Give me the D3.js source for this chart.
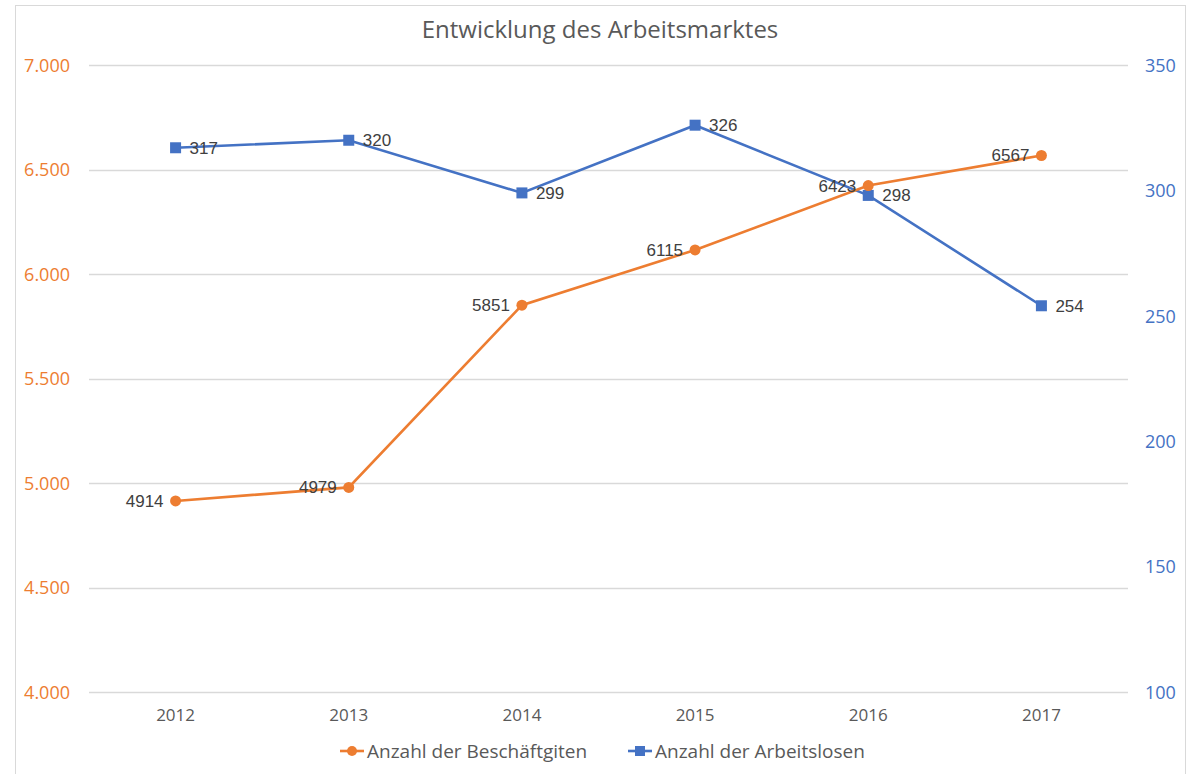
<!DOCTYPE html>
<html>
<head>
<meta charset="utf-8">
<script src="https://cdn.jsdelivr.net/npm/d3@7"></script>
<style>
  body { margin: 0; background: #fff; }
  svg text { font-family: "Open Sans", "Noto Sans", sans-serif; }
</style>
</head>
<body>
<div id="chart"></div>
<script>
// data
var years = ["2012", "2013", "2014", "2015", "2016", "2017"];
var beschaeftigte = [4914, 4979, 5851, 6115, 6423, 6567];
var arbeitslose = [317, 320, 299, 326, 298, 254];
var leftTicks = [4000, 4500, 5000, 5500, 6000, 6500, 7000];
var rightTicks = [100, 150, 200, 250, 300, 350];

var W = 1193, H = 774;
var margin = {top: 65, right: 65, bottom: 82, left: 89};
var orange = "#ED7D31", blue = "#4472C4";

var svg = d3.select("#chart").append("svg")
  .attr("width", W).attr("height", H);

// chart border
svg.append("rect")
  .attr("x", 15.5).attr("y", 5.5)
  .attr("width", 1170).attr("height", 800)
  .attr("fill", "#fff").attr("stroke", "#d9d9d9");

var x = d3.scaleBand().domain(years).range([margin.left, W - margin.right]);
var yL = d3.scaleLinear().domain([4000, 7000]).range([H - margin.bottom, margin.top]);
var yR = d3.scaleLinear().domain([100, 350]).range([H - margin.bottom, margin.top]);
var cx = function(d, i) { return x(years[i]) + x.bandwidth() / 2; };

// gridlines
svg.append("g").selectAll("line").data(leftTicks).enter().append("line")
  .attr("x1", margin.left).attr("x2", W - margin.right)
  .attr("y1", function(d) { return Math.round(yL(d)) + 0.5; })
  .attr("y2", function(d) { return Math.round(yL(d)) + 0.5; })
  .attr("stroke", "#d9d9d9").attr("stroke-width", 1.3);

// left axis (orange)
var fmt = function(d) { return d3.format(",")(d).replace(/,/g, "."); };
var gL = svg.append("g")
  .attr("transform", "translate(" + (margin.left - 16) + ",0)")
  .call(d3.axisLeft(yL).tickValues(leftTicks).tickFormat(fmt).tickSize(0));
gL.select(".domain").remove();
gL.selectAll("text").attr("fill", orange).style("font-size", "18px").attr("dy", "0.35em");

// right axis (blue)
var gR = svg.append("g")
  .attr("transform", "translate(" + (W - margin.right + 14) + ",0)")
  .call(d3.axisRight(yR).tickValues(rightTicks).tickSize(0));
gR.select(".domain").remove();
gR.selectAll("text").attr("fill", blue).style("font-size", "18px").attr("dy", "0.35em");

// x axis
var gX = svg.append("g")
  .attr("transform", "translate(0," + (H - margin.bottom + 14) + ")")
  .call(d3.axisBottom(x).tickSize(0));
gX.select(".domain").remove();
gX.selectAll("text").attr("fill", "#595959").style("font-size", "17px");

// title
svg.append("text")
  .attr("x", 600).attr("y", 38)
  .attr("text-anchor", "middle")
  .attr("fill", "#595959")
  .style("font-size", "24px")
  .text("Entwicklung des Arbeitsmarktes");

// blue line
svg.append("path")
  .datum(arbeitslose)
  .attr("fill", "none").attr("stroke", blue).attr("stroke-width", 2.6)
  .attr("d", d3.line().x(cx).y(function(d) { return yR(d); }));
svg.append("g").selectAll("rect").data(arbeitslose).enter().append("rect")
  .attr("x", function(d, i) { return cx(d, i) - 5.5; })
  .attr("y", function(d) { return yR(d) - 5.5; })
  .attr("width", 11).attr("height", 11)
  .attr("fill", blue);

// orange line
svg.append("path")
  .datum(beschaeftigte)
  .attr("fill", "none").attr("stroke", orange).attr("stroke-width", 2.6)
  .attr("d", d3.line().x(cx).y(function(d) { return yL(d); }));
svg.append("g").selectAll("circle").data(beschaeftigte).enter().append("circle")
  .attr("cx", cx)
  .attr("cy", function(d) { return yL(d); })
  .attr("r", 5.5)
  .attr("fill", orange);

// data labels
svg.append("g").selectAll("text").data(beschaeftigte).enter().append("text")
  .attr("x", function(d, i) { return cx(d, i) - 12; })
  .attr("y", function(d) { return yL(d); })
  .attr("dy", "0.35em")
  .attr("text-anchor", "end")
  .attr("fill", "#404040")
  .style("font-family", "'Liberation Sans', Arial, sans-serif")
  .style("font-size", "17px")
  .text(function(d) { return d; });
svg.append("g").selectAll("text").data(arbeitslose).enter().append("text")
  .attr("x", function(d, i) { return cx(d, i) + 14; })
  .attr("y", function(d) { return yR(d); })
  .attr("dy", "0.35em")
  .attr("fill", "#404040")
  .style("font-family", "'Liberation Sans', Arial, sans-serif")
  .style("font-size", "17px")
  .text(function(d) { return d; });

// legend
var legend = [
  {name: "Anzahl der Beschäftgiten", color: orange, shape: "circle", x: 340},
  {name: "Anzahl der Arbeitslosen", color: blue, shape: "square", x: 628}
];
var lg = svg.append("g").selectAll("g").data(legend).enter().append("g")
  .attr("transform", function(d) { return "translate(" + d.x + ",751)"; });
lg.append("line")
  .attr("x1", 0).attr("x2", 24)
  .attr("stroke", function(d) { return d.color; }).attr("stroke-width", 2.6);
lg.filter(function(d) { return d.shape == "circle"; }).append("circle")
  .attr("cx", 12).attr("r", 5).attr("fill", orange);
lg.filter(function(d) { return d.shape == "square"; }).append("rect")
  .attr("x", 7).attr("y", -5).attr("width", 10).attr("height", 10).attr("fill", blue);
lg.append("text")
  .attr("x", 27).attr("dy", "0.35em")
  .attr("fill", "#595959")
  .style("font-size", "19px")
  .text(function(d) { return d.name; });
</script>
</body>
</html>
